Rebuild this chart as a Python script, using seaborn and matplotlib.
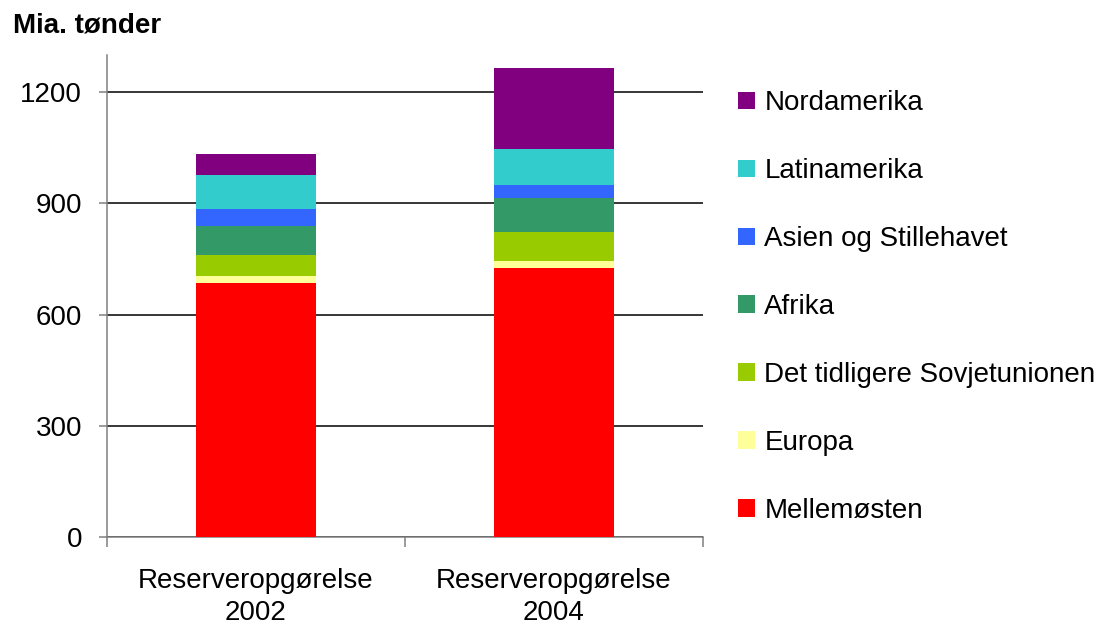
import numpy as np
import seaborn as sns
import matplotlib.pyplot as plt

# data (mia. tønder)
categories = ['Reserveropgørelse\n2002', 'Reserveropgørelse\n2004']
regions = ['Mellemøsten', 'Europa', 'Det tidligere Sovjetunionen', 'Afrika',
           'Asien og Stillehavet', 'Latinamerika', 'Nordamerika']
mellemosten = [685, 725]
europa = [19, 19]
sovjet = [57, 78]
afrika = [78, 92]
asien = [46, 35]
latinamerika = [92, 97]
nordamerika = [57, 218]
colors = ['#FF0000', '#FFFF99', '#99CC00', '#339966', '#3366FF', '#33CCCC', '#800080']

series = [mellemosten, europa, sovjet, afrika, asien, latinamerika, nordamerika]

sns.set_style('white')
plt.rcParams['font.family'] = ['Liberation Sans', 'DejaVu Sans']
plt.rcParams['text.color'] = 'black'
plt.rcParams['xtick.labelcolor'] = 'black'
plt.rcParams['ytick.labelcolor'] = 'black'

fig = plt.figure(figsize=(11.04, 6.28), dpi=100)
ax = fig.add_axes([0.0969, 0.1449, 0.5399, 0.7675])

bottom = np.zeros(len(categories))
for name, vals, col in zip(regions, series, colors):
    sns.barplot(x=categories, y=vals, bottom=bottom, color=col, width=0.4,
                label=name, ax=ax, saturation=1, linewidth=0, zorder=3)
    bottom += np.array(vals)

ax.set_ylim(0, 1300)
ax.set_xlim(-0.5, 1.5)
ax.set_yticks([0, 300, 600, 900, 1200])
ax.yaxis.grid(True, color='black', linewidth=1.1, zorder=0)
ax.set_axisbelow(True)
for s in ['top', 'right']:
    ax.spines[s].set_visible(False)
for s in ['left', 'bottom']:
    ax.spines[s].set_color('#808080')
    ax.spines[s].set_linewidth(1.1)

ax.tick_params(axis='y', labelsize=20, length=6, color='#808080', width=1.1, left=True,
               pad=12, labelcolor='black')
ax.tick_params(axis='x', which='major', labelsize=20, length=0, pad=22, labelcolor='black')
for lbl in ax.get_xticklabels():
    lbl.set_linespacing(1.3)
ax.set_xticks([-0.5, 0.5, 1.5], minor=True)
ax.tick_params(axis='x', which='minor', length=7, color='#808080', width=1.1, bottom=True)
ax.set_xlabel('')
ax.set_ylabel('')

handles, labels = ax.get_legend_handles_labels()
leg = ax.legend(handles[::-1], labels[::-1], loc='upper left', bbox_to_anchor=(1.04, 0.95),
                frameon=False, fontsize=20, handlelength=0.6, handleheight=0.6,
                handletextpad=0.35, labelspacing=1.51, borderaxespad=0)
for t in leg.get_texts():
    t.set_color('black')

fig.text(0.012, 0.96, 'Mia. tønder', fontsize=20, fontweight='bold', va='center', ha='left',
         color='black')

fig.savefig('out.png', dpi=100)
